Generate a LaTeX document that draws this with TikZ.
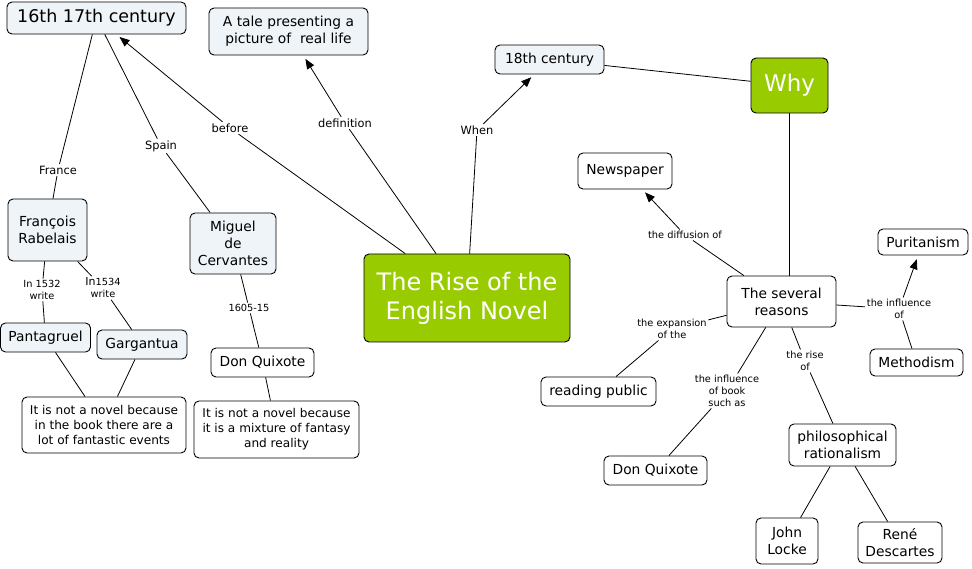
\documentclass[tikz,border=0pt]{standalone}
\usepackage{fontspec}
\setmainfont{DejaVu Sans}
\usetikzlibrary{arrows.meta}
\definecolor{lightfill}{RGB}{238,244,247}
\definecolor{greenfill}{RGB}{153,204,0}
\begin{document}
\begin{tikzpicture}[x=1pt,y=-1pt,
  box/.style={draw=black, line width=0.9pt, rounded corners=5pt, inner sep=0pt, align=center, font=\fontsize{13.8}{17}\selectfont, fill=white},
  lightbox/.style={box, fill=lightfill},
  greenbox/.style={box, fill=greenfill, text=white},
  longbox/.style={box, font=\fontsize{12.1}{15}\selectfont},
  lbl/.style={inner sep=1.5pt, align=center, font=\fontsize{11.4}{13}\selectfont},
  slbl/.style={inner sep=1.5pt, align=center, font=\fontsize{9.8}{12}\selectfont},
  conn/.style={line width=0.8pt},
  arr/.style={conn, -{Triangle[length=10pt,width=8pt]}, shorten >=4pt},
]
\useasboundingbox (0,0) rectangle (972,569);

% concepts
\node[lightbox, minimum width=179, minimum height=32, font=\fontsize{17.5}{20}\selectfont] (c16) at (96.5,18) {16th 17th century};
\node[lightbox, minimum width=159, minimum height=47] (tale) at (288.5,31.5) {A tale presenting a\\ picture of\ \ real life};
\node[lightbox, minimum width=109, minimum height=29] (c18) at (549.5,59.5) {18th century};
\node[greenbox, minimum width=77, minimum height=55, font=\fontsize{23}{27}\selectfont] (why) at (789.5,85.5) {Why};
\node[box, minimum width=94, minimum height=36] (news) at (625,171) {Newspaper};
\node[box, minimum width=90, minimum height=26] (purit) at (923,242) {Puritanism};
\node[box, minimum width=109, minimum height=51] (reasons) at (781.5,301.5) {The several\\ reasons};
\node[box, minimum width=93, minimum height=27] (meth) at (916.5,362.5) {Methodism};
\node[box, minimum width=115, minimum height=29] (readpub) at (598.5,391.5) {reading public};
\node[box, minimum width=103, minimum height=29] (dqr) at (655.5,470.5) {Don Quixote};
\node[box, minimum width=107, minimum height=42] (philo) at (842.5,445) {philosophical\\ rationalism};
\node[box, minimum width=62, minimum height=46] (locke) at (787,541) {John\\ Locke};
\node[box, minimum width=84, minimum height=41] (rene) at (900,542.5) {René\\ Descartes};
\node[greenbox, minimum width=206, minimum height=88, font=\fontsize{24}{29}\selectfont] (rise) at (467,298) {The Rise of the\\ English Novel};
\node[lightbox, minimum width=79, minimum height=62] (franc) at (47.5,230) {François\\ Rabelais};
\node[lightbox, minimum width=86, minimum height=61] (miguel) at (233,243.5) {Miguel\\ de\\ Cervantes};
\node[lightbox, minimum width=90, minimum height=29] (panta) at (45.5,337.5) {Pantagruel};
\node[lightbox, minimum width=90, minimum height=29] (garg) at (142,344.5) {Gargantua};
\node[box, minimum width=103, minimum height=29] (dql) at (262.5,362.5) {Don Quixote};
\node[longbox, minimum width=164, minimum height=56] (box1) at (104,425) {It is not a novel because\\ in the book there are a\\ lot of fantastic events};
\node[longbox, minimum width=165, minimum height=57] (box2) at (276.5,429.5) {It is not a novel because\\ it is a mixture of fantasy\\ and reality};

% linking phrases
\node[lbl] (france) at (58,170) {France};
\node[lbl] (spain) at (161,146) {Spain};
\node[lbl] (before) at (230,128) {before};
\node[lbl] (defin) at (345,123) {definition};
\node[lbl] (when) at (477,130) {When};
\node[slbl] (in1532) at (42,290) {In 1532\\ write};
\node[slbl] (in1534) at (103,288) {{\fontsize{11}{12}\selectfont In}1534\\ write};
\node[slbl] (yrs) at (249,308) {1605-15};
\node[slbl] (diff) at (685,235) {the diffusion of};
\node[slbl] (expan) at (672,329) {the expansion\\ of the};
\node[slbl] (inflb) at (727,391) {the influence\\ of book\\ such as};
\node[slbl] (riseof) at (805,361) {the rise\\ of};
\node[slbl] (inflr) at (899,309) {the influence\\ of};

% connectors
\draw[conn] (rise) -- (before);
\draw[arr] (before) -- (c16);
\draw[conn] (rise) -- (defin);
\draw[arr] (defin) -- (tale);
\draw[conn] (rise) -- (when);
\draw[arr] (when) -- (c18);
\draw[conn] (c16) -- (france);
\draw[conn] (france) -- (franc);
\draw[conn] (c16) -- (spain);
\draw[conn] (spain) -- (miguel);
\draw[conn] (franc) -- (in1532);
\draw[conn] (in1532) -- (panta);
\draw[conn] (franc) -- (in1534);
\draw[conn] (in1534) -- (garg);
\draw[conn] (miguel) -- (yrs);
\draw[conn] (yrs) -- (dql);
\draw[conn] (panta) -- (box1);
\draw[conn] (garg) -- (box1);
\draw[conn] (dql) -- (box2);
\draw[conn] (c18) -- (why);
\draw[conn] (why.south) -- (why.south |- reasons.north);
\draw[conn] (reasons) -- (diff);
\draw[arr] (diff) -- (news);
\draw[conn] (reasons) -- (expan);
\draw[conn] (expan) -- (readpub);
\draw[conn] (reasons) -- (inflb);
\draw[conn] (inflb) -- (dqr);
\draw[conn] (reasons) -- (riseof);
\draw[conn] (riseof) -- (philo);
\draw[conn] (reasons) -- (inflr);
\draw[arr] (inflr) -- (purit);
\draw[conn] (inflr) -- (meth);
\draw[conn] (philo) -- (locke);
\draw[conn] (philo) -- (rene);
\end{tikzpicture}
\end{document}
